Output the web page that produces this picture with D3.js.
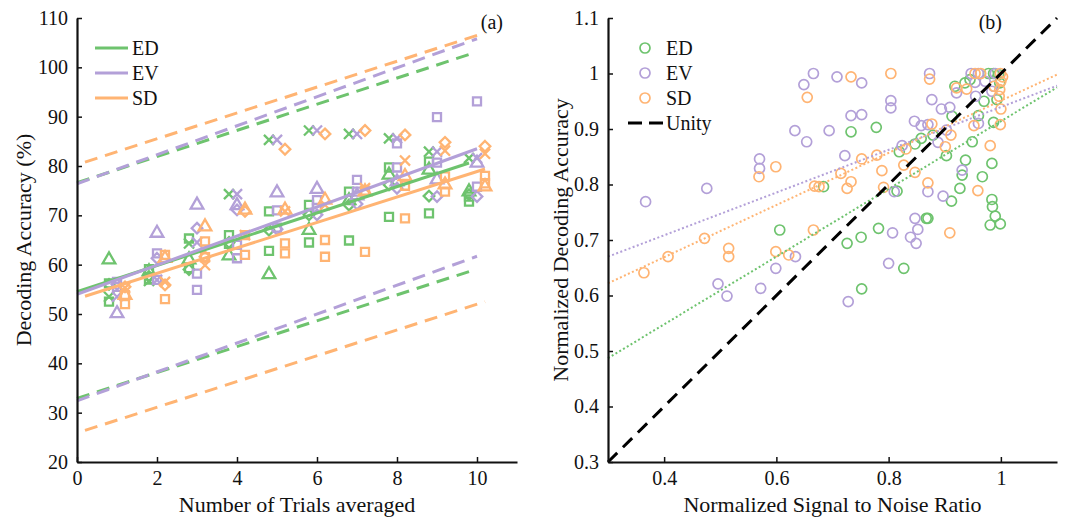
<!DOCTYPE html>
<html><head><meta charset="utf-8">
<script src="https://cdn.jsdelivr.net/npm/d3@7"></script>
<style>body{margin:0;background:#fff}text{font-family:"Liberation Serif","Times New Roman",serif;fill:#111}</style>
</head><body><svg id="c" width="1072" height="519"></svg>
<script>
// ---------- Panel (a) data ----------
const trials = [1,2,3,4,5,6,7,8,9,10];
const seriesNames = ["ED","EV","SD"];
const colors = ["#6EC36E","#B3A0D8","#FFB473"];
const offsets = [-0.2, 0, 0.2];
const markerNames = ["triangle","squareA","squareB","diamond","cross"];

const edTri = [61.0,58.6,61.0,61.8,58.0,67.0,73.0,78.2,79.2,74.8];
const edSqA = [52.5,59.1,65.3,66.0,70.8,72.1,74.8,79.7,80.9,73.8];
const edSqB = [56.2,57.0,59.3,64.2,62.8,64.5,64.9,69.7,70.4,72.8];
const edDia = [56.0,57.6,59.0,64.5,67.0,70.1,72.1,76.2,73.9,74.2];
const edX   = [53.5,56.7,64.3,74.3,85.3,87.2,86.5,85.6,82.9,81.6];

const evTri = [50.1,66.4,72.1,72.0,74.6,75.3,74.0,76.8,77.2,80.6];
const evSqA = [55.5,62.3,58.2,64.0,71.0,73.1,77.2,79.7,89.9,93.1];
const evSqB = [56.5,56.9,54.9,61.3,67.5,71.5,74.8,84.6,80.7,75.8];
const evDia = [56.0,61.3,67.4,71.1,67.2,70.1,72.3,75.5,73.8,73.8];
const evX   = [53.5,56.9,64.5,74.3,85.3,87.2,86.5,85.6,82.9,81.6];

const sdTri = [53.8,61.3,67.7,71.1,71.1,73.1,74.8,77.9,76.2,75.8];
const sdSqA = [52.0,62.0,64.7,66.0,64.3,65.0,75.0,69.4,77.9,78.0];
const sdSqB = [53.8,53.0,61.5,62.0,62.3,61.6,62.6,76.0,74.8,76.5];
const sdDia = [55.5,55.9,61.6,70.8,83.4,86.5,87.2,86.3,84.8,84.0];
const sdX   = [55.3,56.5,59.9,66.0,70.8,72.1,75.5,81.1,83.1,82.5];

// fit lines and bounds (endpoints)
const fitXED = [0, 9.8],  fitED = [54.5, 80.6], upED = [76.6, 102.6], loED = [32.9, 58.6];
const fitXEV = [0, 10],   fitEV = [54.0, 83.5], upEV = [76.4, 105.8], loEV = [32.4, 61.7];
const fitXSD = [0.2,10.2],fitSD = [53.6, 79.4], upSD = [80.8, 107.0], loSD = [26.4, 52.5];

const aXTicks = [0,2,4,6,8,10];
const aYTicks = [20,30,40,50,60,70,80,90,100,110];

// ---------- Panel (b) data ----------
const edSNR = [0.606,0.733,0.778,0.726,0.751,0.752,0.782,0.827,0.815,0.819,0.847,0.858,0.867,0.870,0.879,0.903,0.912,0.913,0.927,0.931,0.937,0.949,0.960,0.967,0.970,0.981,0.984,0.984,0.985,0.990,0.999,0.987,0.993,0.936,0.945,0.978,0.987,0.996,0.998,0.918,0.684];
const edAcc = [0.718,0.895,0.903,0.694,0.705,0.612,0.721,0.649,0.788,0.859,0.873,0.883,0.739,0.739,0.889,0.852,0.770,0.923,0.793,0.817,0.844,0.877,0.924,0.814,0.950,0.727,0.838,0.773,0.760,0.743,0.729,0.912,0.953,0.983,0.989,1.000,1.000,0.998,0.983,0.977,0.796];
const evSNR = [0.367,0.476,0.496,0.512,0.570,0.570,0.572,0.599,0.634,0.633,0.649,0.666,0.654,0.694,0.708,0.722,0.728,0.733,0.752,0.752,0.800,0.807,0.804,0.804,0.810,0.824,0.839,0.846,0.847,0.849,0.852,0.858,0.870,0.870,0.873,0.877,0.888,0.897,0.894,0.909,0.903,0.921,0.931,0.947,0.954,0.955,0.960,0.960,0.972,0.984,0.990,0.987];
const evAcc = [0.769,0.793,0.621,0.599,0.846,0.829,0.613,0.649,0.670,0.897,0.980,1.000,0.877,0.897,0.994,0.852,0.589,0.924,0.983,0.926,0.658,0.713,0.951,0.938,0.787,0.870,0.705,0.914,0.739,0.694,0.719,0.906,0.787,0.908,1.000,0.953,0.876,0.779,0.936,0.939,0.898,0.965,0.826,1.000,0.984,0.959,0.910,1.000,0.986,0.968,1.000,0.977];
const sdSNR = [0.364,0.407,0.472,0.515,0.515,0.569,0.599,0.599,0.622,0.655,0.666,0.668,0.676,0.715,0.726,0.733,0.733,0.752,0.779,0.788,0.791,0.804,0.827,0.831,0.847,0.870,0.873,0.877,0.901,0.909,0.911,0.921,0.939,0.952,0.959,0.954,0.964,0.981,0.999,1.000,0.999,1.000,0.998,0.997,1.003,0.988];
const sdAcc = [0.641,0.670,0.703,0.685,0.670,0.814,0.832,0.679,0.673,0.957,0.718,0.797,0.796,0.820,0.793,0.805,0.994,0.846,0.853,0.825,0.795,1.000,0.835,0.864,0.822,0.803,0.990,0.909,0.868,0.713,0.889,0.974,0.972,0.906,0.789,1.000,1.000,0.870,0.908,0.936,1.000,0.986,0.971,0.959,0.994,0.977];

const fitXB = [0.3, 1.1];
const fitB_ED = [0.487, 0.975];
const fitB_EV = [0.670, 0.978];
const fitB_SD = [0.622, 0.998];
const unity = [0.3, 1.1];
const bXTicks = [0.4,0.6,0.8,1];
const bYTicks = [0.3,0.4,0.5,0.6,0.7,0.8,0.9,1,1.1];

// ---------- drawing ----------
const svg = d3.select("#c");
const FONT_T = 20, FONT_TITLE = 22;

function styleAxis(g){
  g.attr("font-family", null);
  g.select(".domain").attr("stroke","#111").attr("stroke-width",2.2);
  g.selectAll(".tick line").attr("stroke","#111").attr("stroke-width",1.5);
  g.selectAll(".tick text").style("font-size",FONT_T+"px").attr("fill","#111");
}

// Panel (a)
const A = {l:77, r:517, t:18, b:462};
const xa = d3.scaleLinear().domain([0,11]).range([A.l, A.r]);
const ya = d3.scaleLinear().domain([20,110]).range([A.b, A.t]);
const gA = svg.append("g");

const aData = [
  [edTri,edSqA,edSqB,edDia,edX],
  [evTri,evSqA,evSqB,evDia,evX],
  [sdTri,sdSqA,sdSqB,sdDia,sdX]
];
const symTypes = {
  triangle: [d3.symbolTriangle2, 115],
  squareA: [d3.symbolSquare2, 82],
  squareB: [d3.symbolSquare2, 82],
  diamond: [d3.symbolDiamond2, 72],
  cross: [d3.symbolTimes, 68]
};
aData.forEach((subs, si) => {
  subs.forEach((vals, mi) => {
    const [type,size] = symTypes[markerNames[mi]];
    const sym = d3.symbol().type(type).size(size);
    gA.append("g").selectAll("path").data(vals).join("path")
      .attr("d", sym)
      .attr("transform", (v,i) => `translate(${xa(trials[i]+offsets[si])},${ya(v)})`)
      .attr("fill","none").attr("stroke",colors[si]).attr("stroke-width",2.3);
  });
});

const lineA = d3.line().x(d=>xa(d[0])).y(d=>ya(d[1]));
const fitsA = [
  [fitXED, fitED, upED, loED],
  [fitXEV, fitEV, upEV, loEV],
  [fitXSD, fitSD, upSD, loSD]
];
fitsA.forEach(([xs, f, u, lo], si) => {
  [u, lo].forEach(arr => {
    gA.append("path").datum(xs.map((x,i)=>[x,arr[i]])).attr("d", lineA)
      .attr("fill","none").attr("stroke",colors[si]).attr("stroke-width",3)
      .attr("stroke-dasharray","13,8");
  });
});
fitsA.forEach(([xs, f], si) => {
  gA.append("path").datum(xs.map((x,i)=>[x,f[i]])).attr("d", lineA)
    .attr("fill","none").attr("stroke",colors[si]).attr("stroke-width",3);
});

gA.append("g").attr("transform",`translate(0,${A.b})`)
  .call(d3.axisBottom(xa).tickValues(aXTicks).tickSizeInner(-5).tickSizeOuter(0).tickPadding(9))
  .call(styleAxis);
gA.append("g").attr("transform",`translate(${A.l},0)`)
  .call(d3.axisLeft(ya).tickValues(aYTicks).tickSizeInner(-5).tickSizeOuter(0).tickPadding(9))
  .call(styleAxis);

gA.append("text").attr("x",(A.l+A.r)/2).attr("y",512).attr("text-anchor","middle")
  .style("font-size",FONT_TITLE+"px").text("Number of Trials averaged");
gA.append("text").attr("transform",`translate(31,${(A.t+A.b)/2}) rotate(-90)`).attr("text-anchor","middle")
  .style("font-size",FONT_TITLE+"px").text("Decoding Accuracy (%)");
gA.append("text").attr("x",503).attr("y",29).attr("text-anchor","end").style("font-size","20px").text("(a)");

seriesNames.forEach((n,i) => {
  const y = 48 + i*25;
  gA.append("line").attr("x1",95).attr("x2",128).attr("y1",y).attr("y2",y)
    .attr("stroke",colors[i]).attr("stroke-width",3);
  gA.append("text").attr("x",132).attr("y",y+7).style("font-size","20px").text(n);
});

// Panel (b)
const B = {l:608, r:1057, t:18, b:462};
const xb = d3.scaleLinear().domain([0.3,1.1]).range([B.l, B.r]);
const yb = d3.scaleLinear().domain([0.3,1.1]).range([B.b, B.t]);
const gB = svg.append("g");

const bData = [[edSNR,edAcc],[evSNR,evAcc],[sdSNR,sdAcc]];
bData.forEach(([xs, ys], si) => {
  gB.append("g").selectAll("circle").data(xs).join("circle")
    .attr("cx", d=>xb(d)).attr("cy", (d,i)=>yb(ys[i])).attr("r",5)
    .attr("fill","none").attr("stroke",colors[si]).attr("stroke-width",1.7);
});
const lineB = d3.line().x(d=>xb(d[0])).y(d=>yb(d[1]));
[fitB_ED, fitB_EV, fitB_SD].forEach((f, si) => {
  gB.append("path").datum(fitXB.map((x,i)=>[x,f[i]])).attr("d", lineB)
    .attr("fill","none").attr("stroke",colors[si]).attr("stroke-width",2)
    .attr("stroke-dasharray","2,2.4");
});
gB.append("path").datum(unity.map(v=>[v,v])).attr("d", lineB)
  .attr("fill","none").attr("stroke","#000").attr("stroke-width",3)
  .attr("stroke-dasharray","13,8");

const fmtB = d => String(+d.toFixed(1));
gB.append("g").attr("transform",`translate(0,${B.b})`)
  .call(d3.axisBottom(xb).tickValues(bXTicks).tickFormat(fmtB).tickSizeInner(-5).tickSizeOuter(0).tickPadding(9))
  .call(styleAxis);
gB.append("g").attr("transform",`translate(${B.l},0)`)
  .call(d3.axisLeft(yb).tickValues(bYTicks).tickFormat(fmtB).tickSizeInner(-5).tickSizeOuter(0).tickPadding(9))
  .call(styleAxis);

gB.append("text").attr("x",(B.l+B.r)/2).attr("y",512).attr("text-anchor","middle")
  .style("font-size",FONT_TITLE+"px").text("Normalized Signal to Noise Ratio");
gB.append("text").attr("transform",`translate(568,${(B.t+B.b)/2}) rotate(-90)`).attr("text-anchor","middle")
  .style("font-size",FONT_TITLE+"px").text("Normalized Decoding Accuracy");
gB.append("text").attr("x",1002).attr("y",29).attr("text-anchor","end").style("font-size","20px").text("(b)");

seriesNames.forEach((n,i) => {
  const y = 48 + i*25;
  gB.append("circle").attr("cx",645).attr("cy",y).attr("r",5)
    .attr("fill","none").attr("stroke",colors[i]).attr("stroke-width",1.7);
  gB.append("text").attr("x",666).attr("y",y+7).style("font-size","20px").text(n);
});
gB.append("line").attr("x1",628).attr("x2",663).attr("y1",123).attr("y2",123)
  .attr("stroke","#000").attr("stroke-width",3).attr("stroke-dasharray","14,7");
gB.append("text").attr("x",666).attr("y",130).style("font-size","20px").text("Unity");
</script></body></html>
